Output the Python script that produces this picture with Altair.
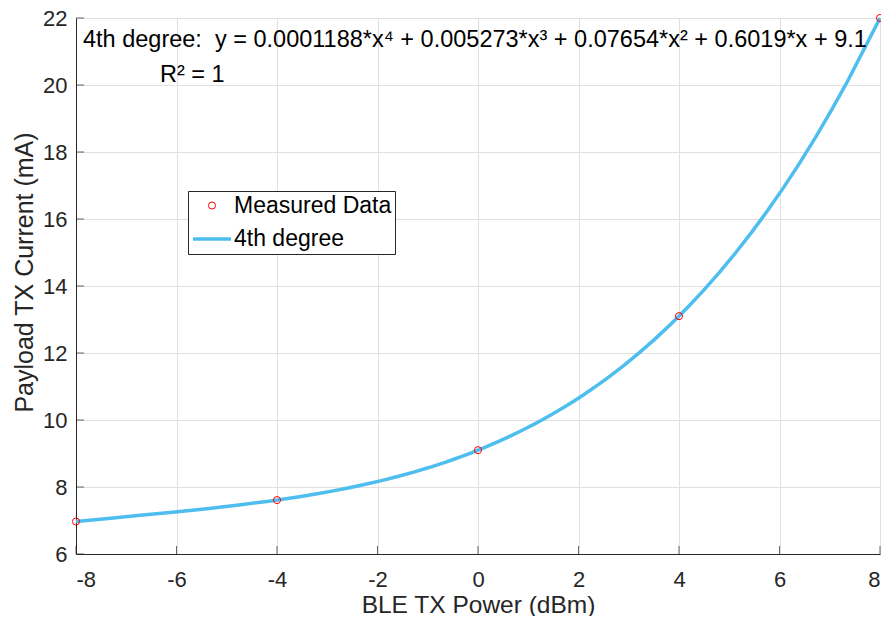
import altair as alt
import pandas as pd

# ---- data ----
power_dbm = [-8, -4, 0, 4, 8]
current_ma = [6.97, 7.61, 9.1, 13.1, 22.0]
series_names = ["Measured Data", "4th degree"]
x_ticks = [-8, -6, -4, -2, 0, 2, 4, 6, 8]
y_ticks = [6, 8, 10, 12, 14, 16, 18, 20, 22]
equation_text = ["4th degree: \u00a0y = 0.0001188*x\u2074 + 0.005273*x\u00b3 + 0.07654*x\u00b2 + 0.6019*x + 9.1"]
r2_text = ["R\u00b2 = 1"]

FONT = "Liberation Sans"
AX = "#262626"
W, H = 804, 536

meas = pd.DataFrame({"power": power_dbm, "current": current_ma, "series": series_names[0]})
xt = pd.DataFrame({"power": x_ticks})
yt = pd.DataFrame({"current": y_ticks})

xscale = alt.Scale(domain=[-8, 8], nice=False, zero=False)
yscale = alt.Scale(domain=[6, 22], nice=False, zero=False)

xaxis = alt.Axis(title="BLE TX Power (dBm)", values=x_ticks, labelExpr="'' + datum.value",
                 ticks=False, labelPadding=15, titleY=58, titleFontSize=24.5,
                 titleBaseline="alphabetic", titleX=W / 2)
yaxis = alt.Axis(title="Payload TX Current (mA)", values=y_ticks, labelExpr="'' + datum.value",
                 ticks=False, labelPadding=9, titleX=-52, titleY=254,
                 titleAngle=-90, titleBaseline="middle")

legend = alt.Legend(
    title=None, orient="none", legendX=112, legendY=173,
    labelFont=FONT, labelFontSize=23, labelColor="black", labelOffset=1,
    strokeColor=AX, fillColor="white", padding=3, rowPadding=-7,
    labelLimit=400,
    labelExpr="datum.value == '4th degree' ? '\u00a0\u00a0\u00a0' + datum.value : datum.value",
)

base = alt.Chart(meas)

curve = base.transform_regression(
    "power", "current", method="poly", order=4, extent=[-8, 8]
).mark_line(color="#4DBEEE", strokeWidth=3.5).encode(
    x=alt.X("power:Q", scale=xscale, axis=xaxis),
    y=alt.Y("current:Q", scale=yscale, axis=yaxis),
)

points = base.mark_point(filled=False, opacity=1).encode(
    x=alt.X("power:Q", scale=xscale, axis=xaxis),
    y=alt.Y("current:Q", scale=yscale, axis=yaxis),
    color=alt.Color("series:N", scale=alt.Scale(domain=series_names, range=["#FF0000", "#4DBEEE"]), legend=legend),
    shape=alt.Shape("series:N", scale=alt.Scale(domain=series_names, range=["circle", "stroke"]), legend=legend),
    size=alt.Size("series:N", scale=alt.Scale(type="ordinal", domain=series_names, range=[50, 1444]), legend=legend),
    strokeWidth=alt.StrokeWidth("series:N", scale=alt.Scale(type="ordinal", domain=series_names, range=[1, 3.5]), legend=legend),
)

xtick_marks = alt.Chart(xt).mark_tick(orient="vertical", size=8, thickness=1, color=AX).encode(
    x=alt.X("power:Q", scale=xscale, axis=xaxis), y=alt.value(H - 4)
)
ytick_marks = alt.Chart(yt).mark_tick(orient="horizontal", size=8, thickness=1, color=AX).encode(
    y=alt.Y("current:Q", scale=yscale, axis=yaxis), x=alt.value(4)
)

eq = alt.Chart(pd.DataFrame({"label": equation_text})).mark_text(
    align="left", baseline="alphabetic", font=FONT, fontSize=23.5, color="black"
).encode(text="label:N", x=alt.value(7), y=alt.value(29))

r2 = alt.Chart(pd.DataFrame({"label": r2_text})).mark_text(
    align="left", baseline="alphabetic", font=FONT, fontSize=23.5, color="black"
).encode(text="label:N", x=alt.value(84), y=alt.value(64))

chart = alt.layer(curve, points, xtick_marks, ytick_marks, eq, r2).properties(
    width=W, height=H,
    autosize=alt.AutoSizeParams(type="none"),
    padding={"left": 68, "top": 10, "right": 1, "bottom": 62},
    background="white",
).configure_view(strokeWidth=0).configure_axis(
    labelFont=FONT, labelFontSize=22, labelColor=AX,
    titleFont=FONT, titleFontSize=25, titleColor=AX, titleFontWeight="normal",
    domainColor=AX, domainWidth=1, gridColor="#e0e0e0", gridWidth=1,
)

chart.save("out.html", embed_options={"renderer": "svg", "actions": False})
